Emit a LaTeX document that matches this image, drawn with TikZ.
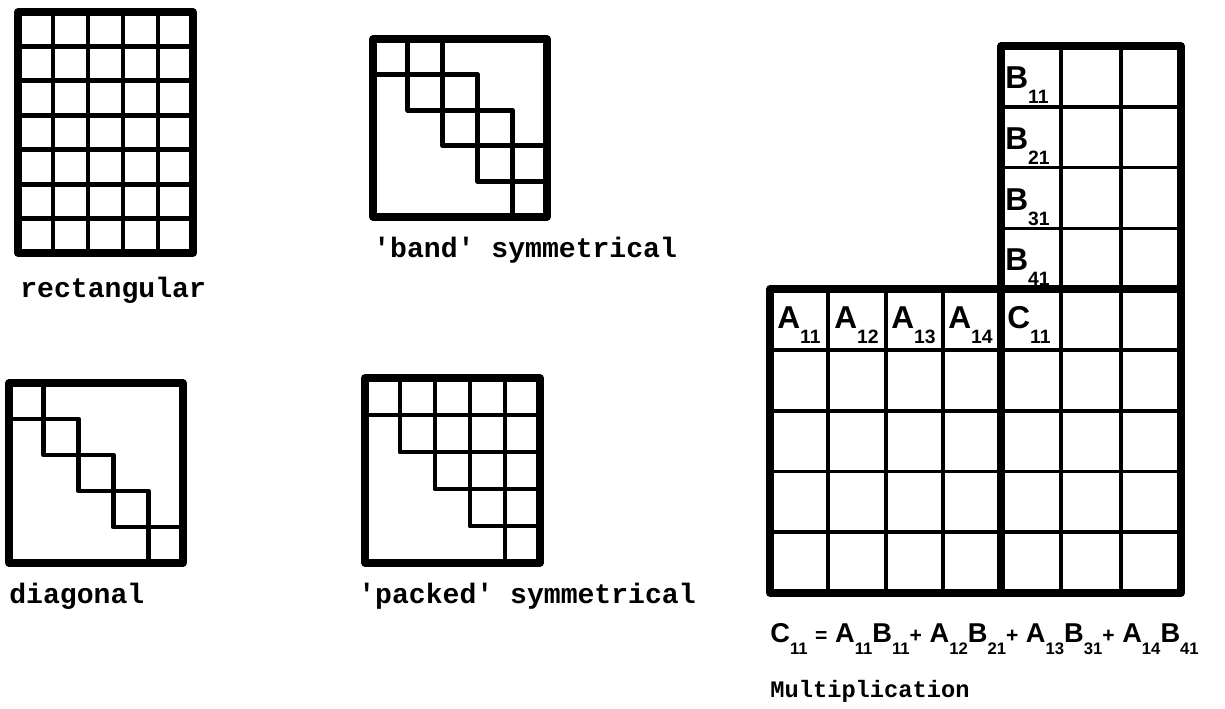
\documentclass[tikz,border=0pt]{standalone}
\usepackage{fontspec}
\setmonofont{Liberation Mono}
\setsansfont{Liberation Sans}
\usetikzlibrary{positioning}

% matrix element with a lowered index
\newcommand{\elem}[2]{#1\raisebox{-0.9ex}{\fontsize{11}{11}\selectfont #2}}
\newcommand{\felem}[2]{#1\raisebox{-0.9ex}{\fontsize{9.5}{10}\selectfont #2}}
\newcommand{\opsym}[1]{{\fontsize{12}{12}\selectfont #1}}

\begin{document}
\begin{tikzpicture}[
  x=0.02cm, y=-0.02cm,
  frame/.style={line width=4.2pt, line join=round},
  cell/.style={line width=2.8pt, line join=round},
  grid/.style={line width=2.1pt},
  label/.style={font=\ttfamily\bfseries\fontsize{16}{18}\selectfont, anchor=base west, inner sep=0pt},
  smalllabel/.style={font=\ttfamily\bfseries\fontsize{13.5}{16}\selectfont, anchor=base west, inner sep=0pt},
  entry/.style={font=\sffamily\bfseries\fontsize{18}{20}\selectfont, anchor=base west, inner sep=0pt},
  formulatext/.style={font=\sffamily\bfseries\fontsize{15.5}{18}\selectfont, anchor=base west, inner sep=0pt}
]
\useasboundingbox (0,0) rectangle (1225,708);

% rectangular
\foreach \i in {1,...,4} \draw[cell] ({18+35*\i},12) -- ({18+35*\i},253);
\foreach \i in {1,...,6} \draw[cell] (18,{12+34.43*\i}) -- (193,{12+34.43*\i});
\draw[frame] (18,12) rectangle (193,253);
\node[label] (rectlbl) at (20,297) {rectangular};

% band symmetrical
\foreach \i in {0,...,4} \draw[cell] ({373+34.8*\i},{39+35.6*\i}) rectangle ++(34.8,35.6);
\foreach \i in {0,...,3} \draw[cell] ({373+34.8*(\i+1)},{39+35.6*\i}) rectangle ++(34.8,35.6);
\draw[frame] (373,39) rectangle (547,217);
\node[label] (bandlbl) at (373,257) {'band' symmetrical};

% diagonal
\foreach \i in {0,...,4} \draw[cell] ({9+34.8*\i},{383+36*\i}) rectangle ++(34.8,36);
\draw[frame] (9,383) rectangle (183,563);
\node[label] (diaglbl) at (9,603) {diagonal};

% packed symmetrical
\foreach \i in {0,...,4}
  \foreach \j in {\i,...,4}
    \draw[cell] ({365+35*\j},{378+37*\i}) rectangle ++(35,37);
\draw[frame] (365,378) rectangle (540,563);
\node[label] (packlbl) at (358,603) {'packed' symmetrical};

% multiplication
\foreach \x in {828,886,943} \draw[grid] (\x,289) -- (\x,593);
\foreach \x in {1061,1121} \draw[grid] (\x,46) -- (\x,593);
\foreach \k in {1,2,3} \draw[grid] (1001,{46+60.78*\k}) -- (1181,{46+60.78*\k});
\foreach \k in {5,...,8} \draw[grid] (770,{46+60.78*\k}) -- (1181,{46+60.78*\k});
\draw[frame] (1001,46) -- (1181,46) -- (1181,593) -- (770,593) -- (770,289) -- (1001,289) -- cycle;
\draw[frame] (1001,46) -- (1001,593);
\draw[frame] (770,289) -- (1181,289);

\node[entry] (b11) at (1005,88) {\elem{B}{11}};
\node[entry] (b21) at (1005,149) {\elem{B}{21}};
\node[entry] (b31) at (1005,210) {\elem{B}{31}};
\node[entry] (b41) at (1005,270) {\elem{B}{41}};
\node[entry] (a11) at (777,328) {\elem{A}{11}};
\node[entry] (a12) at (834,328) {\elem{A}{12}};
\node[entry] (a13) at (891,328) {\elem{A}{13}};
\node[entry] (a14) at (948,328) {\elem{A}{14}};
\node[entry] (c11) at (1007,328) {\elem{C}{11}};

\node[formulatext] (formula) at (770,642)
  {\felem{C}{11} \opsym{=} \felem{A}{11}\felem{B}{11}\opsym{+} \felem{A}{12}\felem{B}{21}\opsym{+} \felem{A}{13}\felem{B}{31}\opsym{+} \felem{A}{14}\felem{B}{41}};
\node[smalllabel] (multlbl) at (770,697) {Multiplication};

\end{tikzpicture}
\end{document}
